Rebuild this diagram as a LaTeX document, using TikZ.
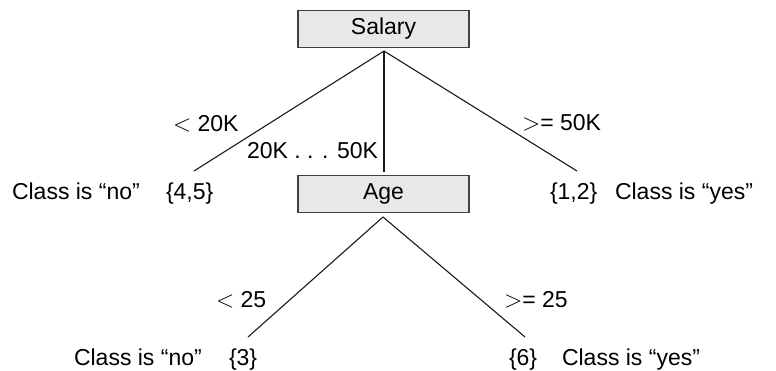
\documentclass[tikz,border=0pt]{standalone}
\usepackage{fontspec}
\setmainfont{Liberation Sans}
\begin{document}
\begin{tikzpicture}[x=0.5pt,y=-0.5pt,
  every node/.style={font=\fontsize{11.5}{13}\selectfont, inner sep=0pt, outer sep=0pt},
  testbox/.style={draw=black!75, fill=black!9, line width=0.7pt, minimum width=85.5pt, minimum height=18.5pt},
  edge/.style={draw=black!90, line width=0.55pt},
  lbl/.style={anchor=base west},
  lblr/.style={anchor=base east}]
\useasboundingbox (0,0) rectangle (776,370);
% decision nodes
\node[testbox] (salary) at (383.5,29) {Salary};
\node[testbox] (age) at (383.5,194) {Age};
% branch points
\coordinate (sroot) at (384,51);
\coordinate (sleft) at (194,171);
\coordinate (smid) at (384,172);
\coordinate (sright) at (577,171);
\coordinate (aroot) at (383,217);
\coordinate (aleft) at (248,337);
\coordinate (aright) at (525,337);
\draw[edge] (sroot) -- (sleft);
\draw[edge] (sroot) -- (smid);
\draw[edge] (sroot) -- (sright);
\draw[edge] (aroot) -- (aleft);
\draw[edge] (aroot) -- (aright);
% branch labels
\node[lbl] (l1) at (173,131) {$<$ 20K};
\node[lblr] (l2) at (378,158) {20K . . . 50K};
\node[lbl] (l3) at (522,130) {$>$= 50K};
\node[lbl] (l4) at (216,307) {$<$ 25};
\node[lbl] (l5) at (504,307) {$>$= 25};
% leaves
\node[lbl] (c1) at (12,199) {Class is “no”};
\node[lbl] (s1) at (166,199) {\{4,5\}};
\node[lbl] (s2) at (550,199) {\{1,2\}};
\node[lbl] (c2) at (615,199) {Class is “yes”};
\node[lbl] (c3) at (74,365) {Class is “no”};
\node[lbl] (s3) at (229,365) {\{3\}};
\node[lbl] (s4) at (509,365) {\{6\}};
\node[lbl] (c4) at (562,365) {Class is “yes”};
\end{tikzpicture}
\end{document}
